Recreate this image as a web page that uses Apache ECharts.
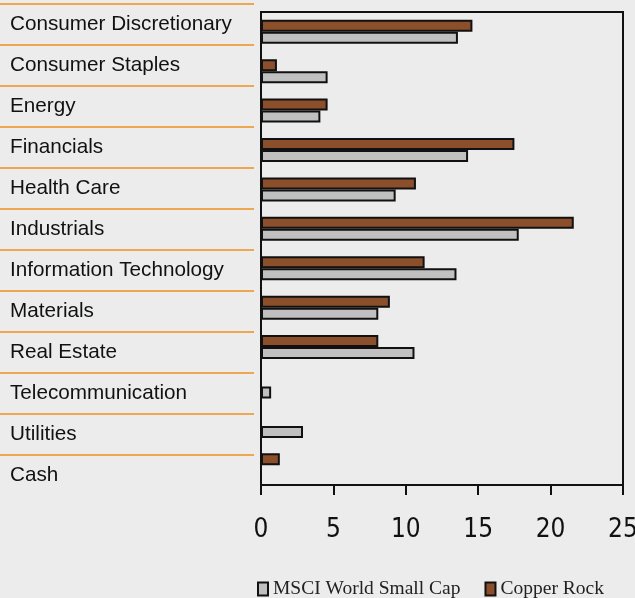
<!DOCTYPE html>
<html>
<head>
<meta charset="utf-8">
<script src="https://cdn.jsdelivr.net/npm/echarts@6/dist/echarts.min.js"></script>
<style>
html,body{margin:0;padding:0;background:#ececec;}
#chart{width:635px;height:598px;}
</style>
</head>
<body>
<div id="chart"></div>
<script>
const categories = ['Consumer Discretionary','Consumer Staples','Energy','Financials','Health Care','Industrials','Information Technology','Materials','Real Estate','Telecommunication','Utilities','Cash'];
const copperRock = [14.6, 1.1, 4.6, 17.5, 10.7, 21.6, 11.3, 8.9, 8.1, null, null, 1.3];
const msciWorldSmallCap = [13.6, 4.6, 4.1, 14.3, 9.3, 17.8, 13.5, 8.1, 10.6, 0.7, 2.9, null];
const xTicks = {min: 0, max: 25, interval: 5};

const chart = echarts.init(document.getElementById('chart'));
chart.setOption({
  backgroundColor: '#ececec',
  animation: false,
  legend: {
    data: ['MSCI World Small Cap', 'Copper Rock'],
    left: 257, top: 579, icon: 'rect', padding: 0,
    itemWidth: 10, itemHeight: 13, itemGap: 24,
    textStyle: {fontFamily: 'Liberation Serif', fontSize: 19.5, color: '#222'}
  },
  grid: [
    {left: 261, top: 12, width: 362, height: 473, outerBoundsMode: 'none', containLabel: false,
     show: true, borderColor: '#111', borderWidth: 2, backgroundColor: 'transparent'},
    {left: 0, top: 4, width: 254, height: 492, outerBoundsMode: 'none', containLabel: false}
  ],
  xAxis: [
    {type: 'value', gridIndex: 0, min: xTicks.min, max: xTicks.max, interval: xTicks.interval,
     axisLine: {show: true, lineStyle: {color: '#111', width: 2}},
     axisTick: {show: true, length: 10, lineStyle: {color: '#111', width: 2}},
     splitLine: {show: false},
     axisLabel: {margin: 32, fontFamily: "'DejaVu Sans Condensed', 'Liberation Sans Narrow', sans-serif", fontSize: 26, color: '#111'}},
    {type: 'value', gridIndex: 1, show: false, min: 0, max: 1}
  ],
  yAxis: [
    {type: 'category', gridIndex: 0, data: categories, inverse: true,
     axisLine: {show: true, lineStyle: {color: '#111', width: 2}},
     axisTick: {show: false}, axisLabel: {show: false}, splitLine: {show: false}},
    {type: 'category', gridIndex: 1, data: categories, inverse: true,
     axisLine: {show: false}, axisTick: {show: false},
     axisLabel: {inside: true, margin: 10, fontFamily: 'Liberation Sans', fontSize: 20.7, color: '#111'},
     splitLine: {show: true, showMinLine: true, showMaxLine: false, lineStyle: {color: '#ef8f1e', width: 1.5}}}
  ],
  series: [
    {name: 'Copper Rock', type: 'bar', xAxisIndex: 0, yAxisIndex: 0, data: copperRock,
     barWidth: 12, barGap: '0%',
     itemStyle: {color: '#8b4f2b', borderColor: '#111', borderWidth: 2}},
    {name: 'MSCI World Small Cap', type: 'bar', xAxisIndex: 0, yAxisIndex: 0, data: msciWorldSmallCap,
     barWidth: 12, barGap: '0%',
     itemStyle: {color: '#c0c0c0', borderColor: '#111', borderWidth: 2}}
  ]
});
</script>
</body>
</html>
